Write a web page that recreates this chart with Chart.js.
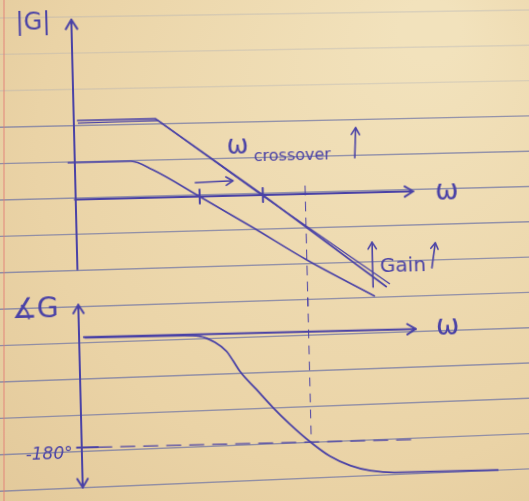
<!DOCTYPE html>
<html>
<head>
<meta charset="utf-8">
<script src="https://cdn.jsdelivr.net/npm/chart.js@4.4.1/dist/chart.umd.min.js"></script>
<style>
html, body { margin: 0; padding: 0; overflow: hidden; background: #e4cc9f; }
#page { position: relative; width: 529px; height: 501px; }
#paper { position: absolute; left: 0; top: 0; }
#sheet { position: absolute; left: 0; top: 0; width: 529px; height: 501px;
         transform: rotate(-1.4deg); transform-origin: 264px 250px; }
#sheet canvas { position: absolute; left: 0; top: 0; }
</style>
</head>
<body>
<div id="page">
  <canvas id="paper" width="529" height="501"></canvas>
  <div id="sheet">
    <canvas id="magChart" width="529" height="501"></canvas>
    <canvas id="phaseChart" width="529" height="501"></canvas>
  </div>
</div>
<script>
// x = log10(w) in decades, magnitude in dB, phase in degrees
var upperW   = [0.04, 1.02, 2.34, 3.86];
var upperDb  = [39.5, 39.5, 0, -47.5];
var upper2W  = [0.05, 1.05, 2.31, 3.90];
var upper2Db = [38.2, 38.6, 0.4, -46];
var lowerW   = [-0.09, 0.70, 0.97, 1.55, 2.20, 2.87, 3.71];
var lowerDb  = [18.5, 18.5, 14, 0, -16, -33, -52];
var phaseW   = [0.07, 1.30, 1.50, 1.70, 1.84, 1.92, 2.00, 2.20, 2.40, 2.60, 2.85, 3.10, 3.35, 3.60, 3.90, 5.20];
var phaseDeg = [-1, -1.5, -3, -14, -29, -45, -62, -92, -122, -149, -179, -204, -220, -229, -233, -233];
var crossW   = [1.55, 2.34];   // ticks where the magnitude lines cross 0 dB
var markW    = 2.87;           // dashed line down to -180
var phaseRef = -180;

var INK = 'rgb(74,66,166)';

function pts(xs, ys) {
	return xs.map(function(x, i) { return {x: x, y: ys[i]}; });
}

// paper with ruled lines
function drawPaper() {
	var c = document.getElementById('paper').getContext('2d');
	var g = c.createRadialGradient(430, 30, 30, 300, 250, 560);
	g.addColorStop(0, 'rgb(242,226,188)');
	g.addColorStop(0.55, 'rgb(234,211,166)');
	g.addColorStop(1, 'rgb(220,192,144)');
	c.fillStyle = g;
	c.fillRect(0, 0, 529, 501);
	for (var i = 0; i < 14; i++) {
		var yl = 18 + 36.4 * i, yr = 10 + 35.3 * i;
		c.strokeStyle = i < 3 ? 'rgba(150,160,185,0.25)' : 'rgba(110,115,165,0.7)';
		c.lineWidth = 1.4;
		c.beginPath(); c.moveTo(0, yl); c.lineTo(529, yr); c.stroke();
	}
	c.strokeStyle = 'rgba(225,120,115,0.7)';
	c.lineWidth = 1.2;
	c.beginPath(); c.moveTo(4, 0); c.lineTo(4, 501); c.stroke();
}
drawPaper();

function head(ctx, x1, y1, x2, y2, size) {
	var a = Math.atan2(y2 - y1, x2 - x1);
	ctx.beginPath();
	ctx.moveTo(x2 - size * Math.cos(a - 0.55), y2 - size * Math.sin(a - 0.55));
	ctx.lineTo(x2, y2);
	ctx.lineTo(x2 - size * Math.cos(a + 0.55), y2 - size * Math.sin(a + 0.55));
	ctx.stroke();
}
function arrow(ctx, x1, y1, x2, y2, size) {
	ctx.beginPath(); ctx.moveTo(x1, y1); ctx.lineTo(x2, y2); ctx.stroke();
	head(ctx, x1, y1, x2, y2, size);
}
function line(ctx, x1, y1, x2, y2) {
	ctx.beginPath(); ctx.moveTo(x1, y1); ctx.lineTo(x2, y2); ctx.stroke();
}
function text(ctx, s, x, y, font) {
	ctx.font = font;
	ctx.textAlign = 'center';
	ctx.textBaseline = 'middle';
	ctx.fillText(s, x, y);
}

var magSketch = {
	id: 'magSketch',
	afterDraw: function(chart) {
		var ctx = chart.ctx;
		var px = function(v) { return chart.scales.x.getPixelForValue(v); };
		var py = function(v) { return chart.scales.y.getPixelForValue(v); };
		ctx.save();
		ctx.strokeStyle = INK; ctx.fillStyle = INK;
		ctx.lineCap = 'round'; ctx.lineJoin = 'round';
		ctx.lineWidth = 2;
		arrow(ctx, px(0), py(-35), px(0), py(90), 11);
		arrow(ctx, px(-0.01), py(0), px(4.22), py(0), 10);
		crossW.forEach(function(w) { line(ctx, px(w), py(3.5), px(w), py(-3.5)); });
		ctx.lineWidth = 1.6;
		arrow(ctx, px(1.5), py(7), px(1.97), py(7.5), 8);
		arrow(ctx, px(3.5), py(17.5), px(3.52), py(32.5), 8);
		arrow(ctx, px(3.69), py(-47.4), px(3.69), py(-24.9), 8);
		arrow(ctx, px(4.43), py(-38.5), px(4.48), py(-26), 7);
		ctx.lineWidth = 1;
		ctx.setLineDash([9, 7]);
		line(ctx, px(markW), py(4), px(markW), py(-56));
		ctx.setLineDash([]);
		text(ctx, '|G|', px(-0.48), py(88.8), '24px "DejaVu Sans"');
		text(ctx, 'ω', px(2.04), py(24.2), '26px "DejaVu Sans"');
		text(ctx, 'crossover', px(2.72), py(19.2), '16px "DejaVu Sans"');
		text(ctx, 'Gain', px(4.07), py(-37.2), '20px "DejaVu Sans"');
		text(ctx, 'ω', px(4.64), py(-1), '28px "DejaVu Sans"');
		ctx.restore();
	}
};

var phaseSketch = {
	id: 'phaseSketch',
	afterDraw: function(chart) {
		var ctx = chart.ctx;
		var px = function(v) { return chart.scales.x.getPixelForValue(v); };
		var py = function(v) { return chart.scales.y.getPixelForValue(v); };
		ctx.save();
		ctx.strokeStyle = INK; ctx.fillStyle = INK;
		ctx.lineCap = 'round'; ctx.lineJoin = 'round';
		ctx.lineWidth = 2;
		arrow(ctx, px(0), py(-100), px(0), py(53), 10);
		arrow(ctx, px(0), py(-100), px(0), py(-245), 10);
		arrow(ctx, px(0.06), py(0), px(4.21), py(0), 10);
		line(ctx, px(-0.06), py(phaseRef), px(0.2), py(phaseRef));
		ctx.lineWidth = 1.4;
		ctx.setLineDash([14, 9]);
		line(ctx, px(0.2), py(phaseRef), px(4.2), py(phaseRef));
		ctx.lineWidth = 1;
		ctx.setLineDash([8, 8]);
		line(ctx, px(markW), py(55), px(markW), py(phaseRef));
		ctx.setLineDash([]);
		text(ctx, '∡G', px(-0.54), py(45), '28px "DejaVu Sans"');
		text(ctx, 'ω', px(4.61), py(2.4), '28px "DejaVu Sans"');
		text(ctx, '-180°', px(-0.41), py(-190), 'italic 17px "DejaVu Sans"');
		ctx.restore();
	}
};

function sketchOptions(padTop, padBottom, yMin, yMax) {
	return {
		responsive: false,
		animation: false,
		events: [],
		layout: { padding: { left: 69, right: 28, top: padTop, bottom: padBottom } },
		plugins: { legend: { display: false }, tooltip: { enabled: false } },
		scales: {
			x: { type: 'linear', min: -0.1, max: 5.3, display: false },
			y: { type: 'linear', min: yMin, max: yMax, display: false }
		}
	};
}

function inkLine(label, data, smooth, width) {
	return {
		label: label, data: data, showLine: true, pointRadius: 0,
		borderColor: INK, borderWidth: width, clip: false,
		cubicInterpolationMode: smooth ? 'monotone' : 'default', tension: 0
	};
}

var magChart = new Chart(document.getElementById('magChart'), {
	type: 'scatter',
	data: {
		datasets: [
			inkLine('|G| raised gain', pts(upperW, upperDb), false, 1.6),
			inkLine('|G| raised gain (retrace)', pts(upper2W, upper2Db), false, 1.3),
			inkLine('|G|', pts(lowerW, lowerDb), true, 1.6)
		]
	},
	options: sketchOptions(11, 194, -56, 92),
	plugins: [magSketch]
});

var phaseChart = new Chart(document.getElementById('phaseChart'), {
	type: 'scatter',
	data: {
		datasets: [
			inkLine('∡G', pts(phaseW, phaseDeg), true, 1.8)
		]
	},
	options: sketchOptions(299, 15, -250, 55),
	plugins: [phaseSketch]
});
</script>
</body>
</html>
